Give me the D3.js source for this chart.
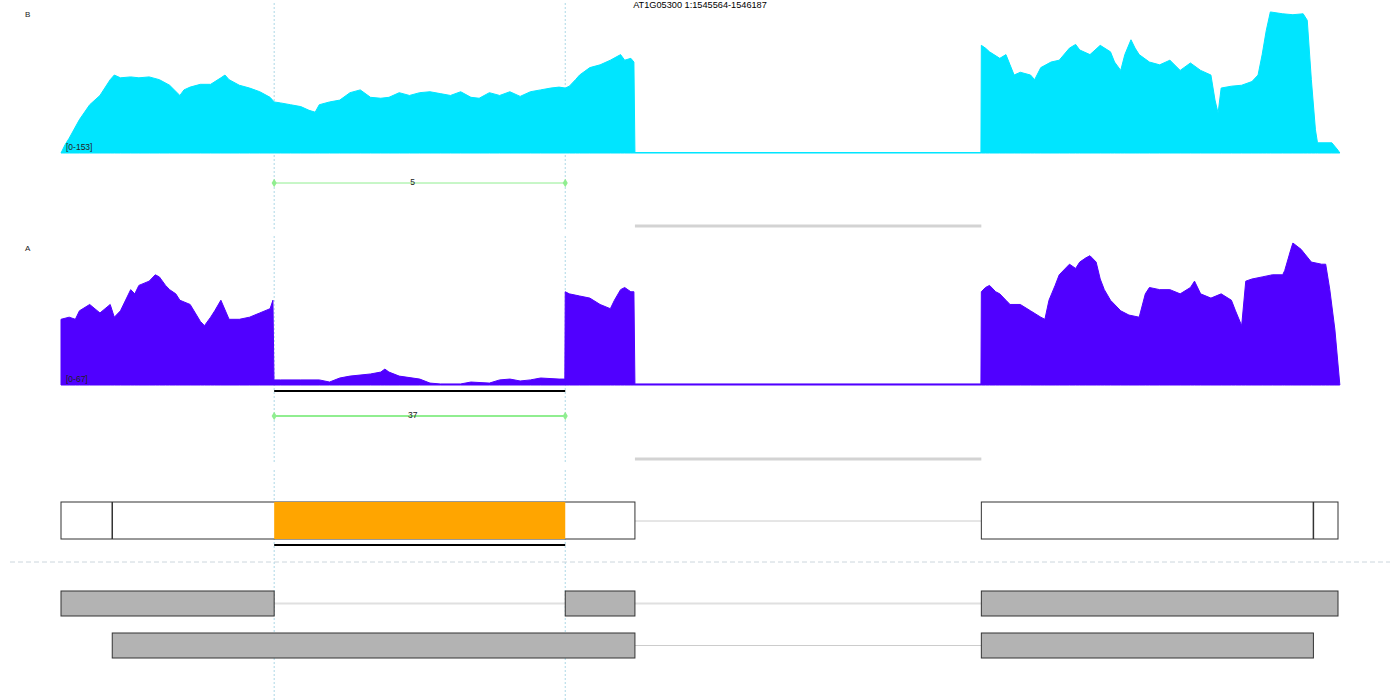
<!DOCTYPE html>
<html><head><meta charset="utf-8">
<script src="https://cdn.jsdelivr.net/npm/d3@7"></script>
<style>html,body{margin:0;padding:0;background:#fff;}svg{display:block;font-family:"Liberation Sans",Arial,sans-serif;}</style>
</head><body>
<svg id="c" width="1400" height="700"></svg>
<script>
// region
const chrom = "1", regionStart = 1545564, regionEnd = 1546187;
const title = "AT1G05300 1:1545564-1546187";
// offsets (bp from regionStart) and coverage for sample B
const posB = [0,2,4,9,14,19,24,26,29,34,38,43,48,53,58,60,63,68,73,78,80,82,87,92,97,102,104,107,112,117,121,124,126,131,136,141,146,151,156,160,165,170,175,180,185,190,195,200,204,209,214,219,224,229,234,239,243,246,248,251,253,258,263,268,273,275,278,279.5,280,
  448.8,449,451,453,458,461,463,465,468,473,475,478,483,487,492,495,497,502,507,512,514,517,519,522,524,526,531,536,541,546,551,556,561,563,564.5,566,571,576,581,584,586,588,590,596,601,606,608,610,612,613,620,623,623.9];
const covB = [0,9,16,36,52,62,79,84,81,82,81,82,79,73,62,68,71,74,74,81,84,79,73,70,66,60,55,54,52,50,46,44,52,55,57,65,68,60,59,60,65,62,65,66,64,62,66,60,59,65,62,66,61,66,68,70,71,70,72,79,84,92,95,100,106,100,102,98,0.5,
  0.5,116,113,109,102,106,95,84,87,84,79,92,98,100,113,117,111,106,116,109,98,89,106,122,113,106,98,95,100,89,97,89,84,57,43,70,72,73,77,84,106,132,152,150,149,150,143,79,25,11,11,3,0];
// offsets and coverage for sample A
const posA = [0,4,7,9,14,19,24,26,29,34,36,38,43,46,48,51,53,56,58,63,68,70,73,75,78,82,87,92,97,102,103.4,
  103.9,107,117,126,131,136,141,151,156,158,160,165,175,180,185,195,200,209,214,219,224,229,234,243,245.8,
  246,248,253,258,263,268,270,273,275,278,279.5,280,
  448.8,449,451,453,456,458,461,463,468,473,478,480,482,485,487,492,495,497,500,502,505,507,509,512,517,521,526,529,531,536,541,546,551,553,556,561,566,571,573,576,
  578,581,586,591,596,597,600,601,605,610,615,617,619,621.5,623.9];
const covA = [31,32,31,35,38,34,38,32,35,45,43,47,49,52,51,47,45,43,40,38,30,28,32,35,40,31,31,32,34,36,40,
  2.4,2.4,2.4,2.4,1.4,3.3,4.2,5.2,6.1,7.5,6.1,4.2,2.8,0.9,0.5,0.5,1.4,0.9,2.4,2.8,1.9,2.4,3.3,2.8,2.8,
  44,43,42,41,38,36,40,45,46,44,44,0.5,
  0.5,44,46,47,44,43,40,38,38,35,32,31,40,47,52,57,55,58,60,61,58,50,45,40,35,33,32,43,46,45,45,43,46,49,43,41,43,40,35,28,
  49,50,51,52,52,54,64,67,64,58,57,57,45,26,0];
const maxB = 153, maxA = 67;
const tracks = ["B","A"];
// junctions (bp offsets)
const juncFrom = 104, juncTo = 246;
const juncCounts = [5, 37];
const intronFrom = 280, intronTo = 449;
// gene model
const geneExons = [[0,280],[449,623]];
const cdsBounds = [25, 611];
const highlight = [104, 246];
// transcripts
const transcripts = [
  [[0,104],[246,280],[449,623]],
  [[25,280],[449,611]]
];

const svg = d3.select("#c");
const x = d3.scaleLinear().domain([regionStart, regionEnd]).range([61, 1338]);
const X = o => x(regionStart + o);

// vertical guide lines
const guideSegs = [[3,229],[236,463],[470,700]];
[highlight[0], highlight[1]].forEach(o => {
  guideSegs.forEach(s => {
    svg.append("line").attr("x1",X(o)).attr("x2",X(o)).attr("y1",s[0]).attr("y2",s[1])
      .attr("stroke","#add8e6").attr("stroke-width",1).attr("stroke-dasharray","2,2");
  });
});

// title
svg.append("text").attr("x",700).attr("y",8).attr("text-anchor","middle")
  .attr("font-size",9.2).attr("fill","#000").text(title);

const colors = {B:"#00e5ff", A:"#5000ff"};
const layout = {B:{top:11,base:153,label:14,junc:183,intron:226,max:maxB,pos:posB,cov:covB},
                A:{top:243,base:385,label:248,junc:416,intron:459,max:maxA,pos:posA,cov:covA}};

tracks.forEach((t,i) => {
  const L = layout[t];
  const y = d3.scaleLinear().domain([0, L.max]).range([L.base, L.top]);
  const data = L.pos.map((p,j)=>[p, L.cov[j]]);
  const area = d3.area().x(d=>X(d[0])).y0(L.base).y1(d=>y(d[1]));
  svg.append("path").datum(data).attr("d",area).attr("fill",colors[t])
    .attr("stroke",colors[t]).attr("stroke-width",1);
  svg.append("text").attr("x",25).attr("y",L.label+3).attr("font-size",8).attr("fill","#222").text(t);
  svg.append("text").attr("x",66).attr("y",L.base-3).attr("font-size",8.5).attr("fill","#222")
    .text("[0-"+L.max+"]");
  // junction
  const jw = t==="A" ? 2 : 1;
  svg.append("line").attr("x1",X(juncFrom)).attr("x2",X(juncTo)).attr("y1",L.junc).attr("y2",L.junc)
    .attr("stroke","#90ee90").attr("stroke-width",jw);
  [juncFrom,juncTo].forEach(o=>{
    svg.append("path").attr("d",d3.symbol(d3.symbolDiamond,22)())
      .attr("transform",`translate(${X(o)},${L.junc})`).attr("fill","#90ee90");
  });
  svg.append("text").attr("x",(X(juncFrom)+X(juncTo))/2 - 7).attr("y",L.junc+2)
    .attr("text-anchor","middle").attr("font-size",8.5).attr("fill","#222").text(juncCounts[i]);
  svg.append("line").attr("x1",X(intronFrom)).attr("x2",X(intronTo)).attr("y1",L.intron).attr("y2",L.intron)
    .attr("stroke","#d3d3d3").attr("stroke-width",3);
});

// black bar under A coverage
svg.append("line").attr("x1",X(highlight[0])).attr("x2",X(highlight[1])).attr("y1",391).attr("y2",391)
  .attr("stroke","#000").attr("stroke-width",2);

// gene model
const gy0 = 502, gy1 = 539;
svg.append("line").attr("x1",X(geneExons[0][1])).attr("x2",X(geneExons[1][0])).attr("y1",521).attr("y2",521)
  .attr("stroke","#ccc").attr("stroke-width",1);
geneExons.forEach(e=>{
  svg.append("rect").attr("x",X(e[0])).attr("y",gy0).attr("width",X(e[1])-X(e[0])).attr("height",gy1-gy0)
    .attr("fill","#fff").attr("stroke","#333").attr("stroke-width",1);
});
svg.append("rect").attr("x",X(highlight[0])).attr("y",gy0).attr("width",X(highlight[1])-X(highlight[0])).attr("height",gy1-gy0)
  .attr("fill","#ffa500");
cdsBounds.forEach(o=>{
  svg.append("line").attr("x1",X(o)).attr("x2",X(o)).attr("y1",gy0).attr("y2",gy1).attr("stroke","#333").attr("stroke-width",1.5);
});
svg.append("line").attr("x1",X(highlight[0])).attr("x2",X(highlight[1])).attr("y1",545).attr("y2",545)
  .attr("stroke","#000").attr("stroke-width",2);

// separator
svg.append("line").attr("x1",10).attr("x2",1390).attr("y1",562).attr("y2",562)
  .attr("stroke","#ccd6dd").attr("stroke-width",1).attr("stroke-dasharray","5,3");

// transcripts
const rowY = [591, 633], rowH = 25;
transcripts.forEach((ex,r)=>{
  const cy = rowY[r] + rowH/2;
  svg.append("line").attr("x1",X(ex[0][0])).attr("x2",X(ex[ex.length-1][1])).attr("y1",cy).attr("y2",cy)
    .attr("stroke", r===0 ? "#e0e0e0" : "#ccc").attr("stroke-width", r===0 ? 2 : 1);
  ex.forEach(e=>{
    svg.append("rect").attr("x",X(e[0])).attr("y",rowY[r]).attr("width",X(e[1])-X(e[0])).attr("height",rowH)
      .attr("fill","#b3b3b3").attr("stroke","#333").attr("stroke-width",1);
  });
});
</script>
</body></html>
